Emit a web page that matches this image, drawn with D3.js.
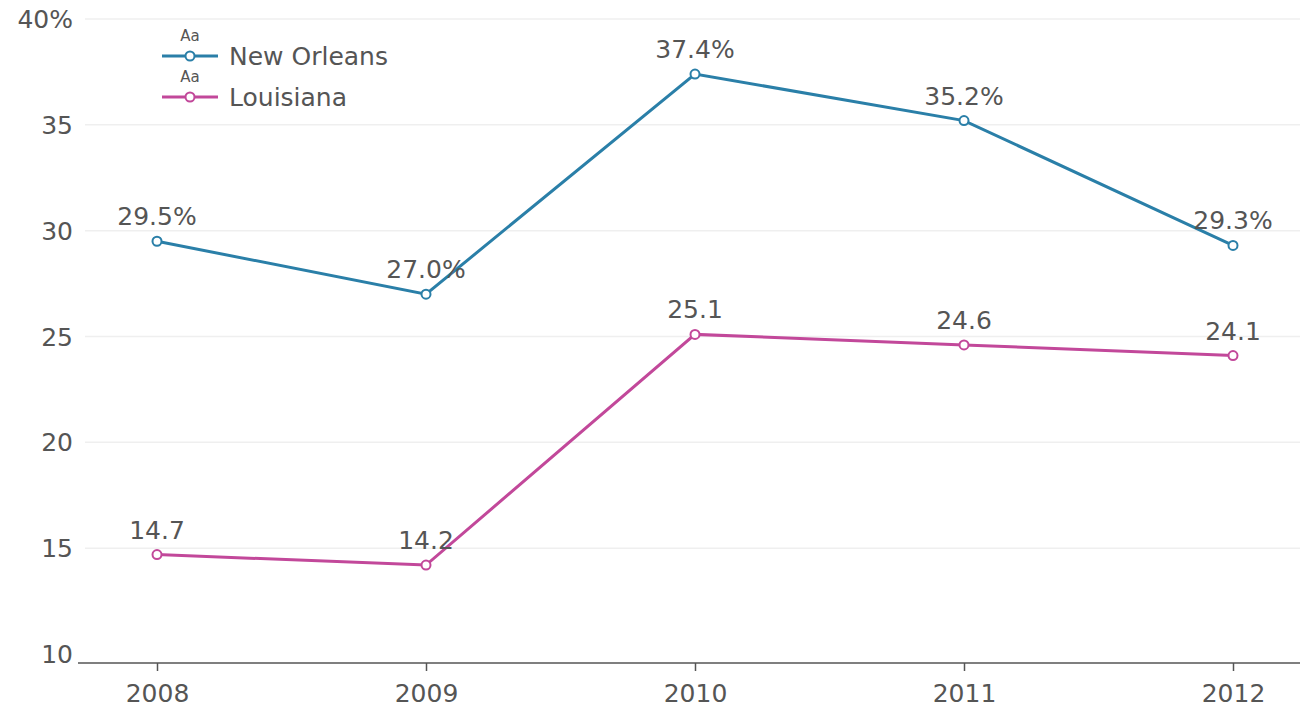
<!DOCTYPE html>
<html lang="en">
<head>
    <meta charset="UTF-8">
    <title>New Orleans vs Louisiana</title>
    <script src="https://d3js.org/d3.v7.min.js"></script>
    <style>
        body { margin: 0; background: #fff; }
        text { font-family: "DejaVu Sans", Verdana, sans-serif; }
    </style>
</head>
<body>
    <div id="chart"></div>

    <script>
        // Data
        const years = [2008, 2009, 2010, 2011, 2012];
        const newOrleans = [29.5, 27.0, 37.4, 35.2, 29.3];
        const louisiana = [14.7, 14.2, 25.1, 24.6, 24.1];
        const yTicks = [10, 15, 20, 25, 30, 35, 40];

        const seriesList = [
            { name: "New Orleans", values: newOrleans, color: "#2a7fa8", suffix: "%" },
            { name: "Louisiana", values: louisiana, color: "#c2489a", suffix: "" }
        ];

        const W = 1316, H = 708;
        const axisY = 663;
        const fontSize = 25;

        const svg = d3.select("#chart")
            .append("svg")
            .attr("width", W)
            .attr("height", H);

        const x = d3.scalePoint()
            .domain(years)
            .range([157, 1233]);

        const y = d3.scaleLinear()
            .domain([10, 40])
            .range([654, 19]);

        // Gridlines
        svg.append("g")
            .selectAll("line")
            .data(yTicks.slice(1))
            .enter()
            .append("line")
            .attr("x1", 85)
            .attr("x2", 1300)
            .attr("y1", d => y(d))
            .attr("y2", d => y(d))
            .attr("stroke", "#efefef")
            .attr("stroke-width", 1.5);

        // Y labels
        svg.append("g")
            .selectAll("text")
            .data(yTicks)
            .enter()
            .append("text")
            .attr("x", 73)
            .attr("y", d => y(d) + 9)
            .attr("text-anchor", "end")
            .attr("font-size", fontSize)
            .attr("fill", "#555")
            .text(d => d === 40 ? d + "%" : d);

        // X axis
        const xAxis = svg.append("g")
            .attr("transform", `translate(0, ${axisY})`)
            .call(d3.axisBottom(x).tickSize(8).tickPadding(13).tickSizeOuter(0));
        xAxis.select(".domain")
            .attr("d", "M78,0H1300")
            .attr("stroke", "#555")
            .attr("stroke-width", 1.5);
        xAxis.selectAll(".tick line").attr("stroke", "#555").attr("stroke-width", 1.5);
        xAxis.selectAll(".tick text")
            .attr("font-size", fontSize)
            .attr("fill", "#555")
            .style("font-family", "DejaVu Sans, Verdana, sans-serif");

        const line = d3.line()
            .x((d, i) => x(years[i]))
            .y(d => y(d));

        seriesList.forEach(s => {
            const g = svg.append("g");
            g.append("path")
                .datum(s.values)
                .attr("d", line)
                .attr("fill", "none")
                .attr("stroke", s.color)
                .attr("stroke-width", 3);

            g.selectAll("circle")
                .data(s.values)
                .enter()
                .append("circle")
                .attr("cx", (d, i) => x(years[i]))
                .attr("cy", d => y(d))
                .attr("r", 4.5)
                .attr("fill", "#fff")
                .attr("stroke", s.color)
                .attr("stroke-width", 2);

            g.selectAll(".lbl")
                .data(s.values)
                .enter()
                .append("text")
                .attr("class", "lbl")
                .attr("x", (d, i) => x(years[i]))
                .attr("y", d => y(d) - 16)
                .attr("text-anchor", "middle")
                .attr("font-size", fontSize)
                .attr("fill", "#555")
                .text(d => d.toFixed(1) + s.suffix);
        });

        // Legend
        const legend = svg.append("g");
        seriesList.forEach((s, i) => {
            const ly = 56 + i * 41;
            legend.append("text")
                .attr("x", 190)
                .attr("y", ly - 15)
                .attr("text-anchor", "middle")
                .attr("font-size", 15)
                .attr("fill", "#555")
                .text("Aa");
            legend.append("line")
                .attr("x1", 162).attr("x2", 218)
                .attr("y1", ly).attr("y2", ly)
                .attr("stroke", s.color)
                .attr("stroke-width", 3);
            legend.append("circle")
                .attr("cx", 190).attr("cy", ly)
                .attr("r", 4.5)
                .attr("fill", "#fff")
                .attr("stroke", s.color)
                .attr("stroke-width", 2);
            legend.append("text")
                .attr("x", 229)
                .attr("y", ly + 9)
                .attr("font-size", fontSize)
                .attr("fill", "#555")
                .text(s.name);
        });
    </script>
</body>
</html>
